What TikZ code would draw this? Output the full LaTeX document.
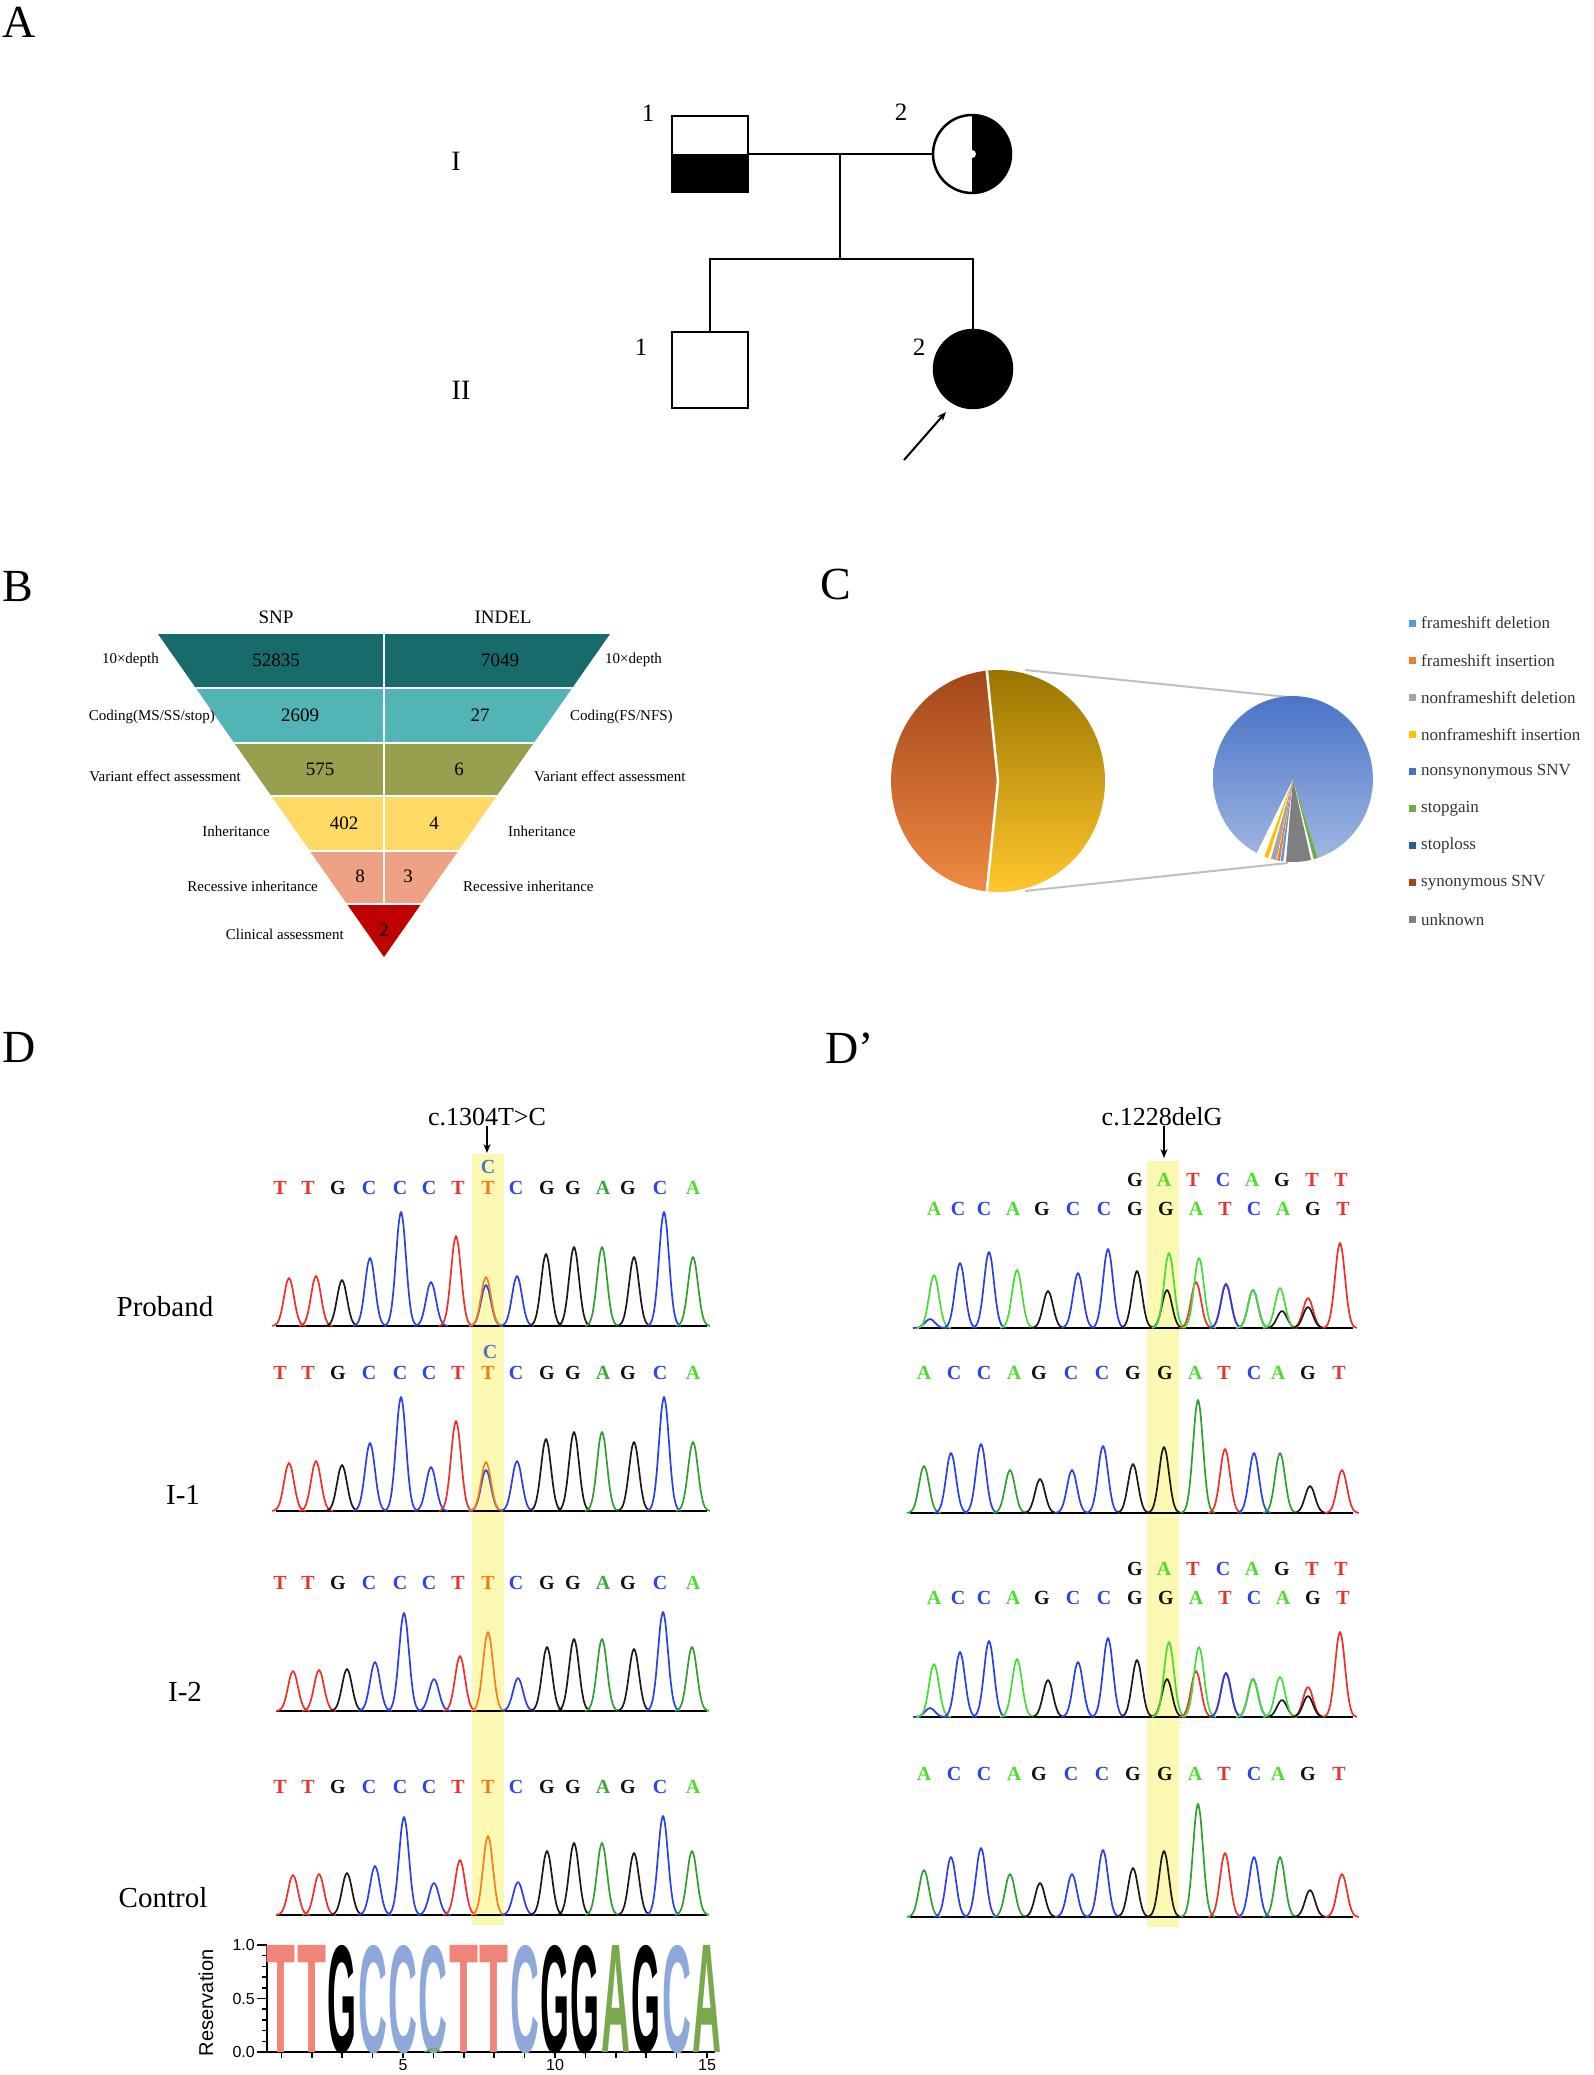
\documentclass[tikz,border=0pt]{standalone}
\usepackage{fontspec}
\usepackage{graphicx}
\setmainfont{Liberation Serif}
\setsansfont{Liberation Sans}
\usetikzlibrary{arrows.meta}
% funnel bands
\definecolor{bandone}{HTML}{176B6B}
\definecolor{bandtwo}{HTML}{52B4B4}
\definecolor{bandthree}{HTML}{989F4F}
\definecolor{bandfour}{HTML}{FFD966}
\definecolor{bandfive}{HTML}{EEA283}
\definecolor{bandsix}{HTML}{C00000}
% pie chart
\definecolor{fdel}{HTML}{5B9BD5}
\definecolor{fins}{HTML}{ED7D31}
\definecolor{nfdel}{HTML}{A5A5A5}
\definecolor{nfins}{HTML}{FFC000}
\definecolor{nsyn}{HTML}{4472C4}
\definecolor{sgain}{HTML}{70AD47}
\definecolor{sloss}{HTML}{255E91}
\definecolor{syn}{HTML}{9E480E}
\definecolor{unk}{HTML}{7F7F7F}
\definecolor{synT}{HTML}{A3461A}
\definecolor{synB}{HTML}{F08A42}
\definecolor{othT}{HTML}{9A7500}
\definecolor{othB}{HTML}{FFC72C}
\definecolor{nsynT}{HTML}{4A74C6}
\definecolor{nsynB}{HTML}{9FB6E2}
\definecolor{zoomgray}{HTML}{BFBFBF}
\definecolor{legtxt}{HTML}{333333}
% sequencing
\definecolor{hl}{HTML}{FBF8B4}
\definecolor{tR}{HTML}{E8322B}
\definecolor{tB}{HTML}{2F44E6}
\definecolor{tK}{HTML}{111111}
\definecolor{tG}{HTML}{3BA83B}
\definecolor{tL}{HTML}{4EDD2C}
\definecolor{tO}{HTML}{F07A1A}
\definecolor{tC}{HTML}{5575C2}
\definecolor{cT}{HTML}{EE3028}
\definecolor{cC}{HTML}{2B3FE8}
\definecolor{cG}{HTML}{1A1A1A}
\definecolor{cA}{HTML}{2F9F2F}
\definecolor{cAb}{HTML}{44DD33}
\definecolor{cO}{HTML}{F08020}
% logo
\definecolor{lgT}{HTML}{EF8479}
\definecolor{lgC}{HTML}{8EA8DA}
\definecolor{lgA}{HTML}{79A94C}

\tikzset{
  lab/.style={inner sep=0pt},
  panel/.style={lab, anchor=west, font=\fontsize{46}{46}\selectfont},
  gen/.style={lab, font=\fontsize{28}{28}\selectfont},
  idno/.style={lab, font=\fontsize{25}{25}\selectfont},
  male/.style={draw, line width=2.5pt, minimum size=76pt, inner sep=0pt},
  female/.style={draw, circle, line width=2.5pt, minimum size=78pt, inner sep=0pt},
  link/.style={line width=2.5pt},
  funhead/.style={lab, font=\fontsize{19}{19}\selectfont},
  funtext/.style={lab, font=\fontsize{15}{15}\selectfont},
  funnum/.style={lab, font=\fontsize{19}{19}\selectfont},
  legtext/.style={lab, anchor=west, text=legtxt, font=\fontsize{17}{17}\selectfont},
  zoomline/.style={zoomgray, line width=2pt},
  basecall/.style={lab, font=\bfseries\fontsize{20}{20}\selectfont},
  who/.style={lab, font=\fontsize{29}{29}\selectfont},
  mut/.style={lab, font=\fontsize{26}{26}\selectfont},
  mutarrow/.style={line width=1.8pt, -{Stealth[length=9pt, width=7pt]}},
  trace/.style={line width=1.7pt, line join=round},
  baseline/.style={line width=1.8pt},
  logoaxis/.style={line width=1.5pt},
  ticklab/.style={lab, font=\sffamily\fontsize{16}{16}\selectfont},
}

% one chromatogram: baseline, list of x/height/colour
\newcommand{\drawtrace}[2]{%
  \foreach \px/\ph/\pc in #2
    \draw[trace, \pc] plot[smooth, domain=\px-17:\px+17, samples=15]
      (\x, {#1-\ph*exp(-((\x-\px)/7)^2)});}

% peaks
\def\hetD{289/48/cT, 316/50/cT, 342/46/cG, 370/68/cC, 401/114/cC, 431/44/cC, 456/90/cT, 486/41/cC, 486/49/cO, 517/50/cC, 546/72/cG, 574/79/cG, 602/79/cA, 634/69/cG, 664/114/cC, 693/69/cA}
\def\wildD{293/40/cT, 319/41/cT, 347/42/cG, 375/49/cC, 404/98/cC, 434/32/cC, 460/55/cT, 488/79/cO, 518/33/cC, 547/64/cG, 574/72/cG, 602/72/cA, 634/62/cG, 663/99/cC, 692/64/cA}
\def\hetDp{930/9/cC, 934/53/cAb, 960/65/cC, 989/76/cC, 1017/58/cAb, 1048/37/cG, 1078/55/cC, 1108/79/cC, 1137/57/cG, 1167/38/cG, 1169/75/cAb, 1196/46/cT, 1199/70/cAb, 1226/44/cT, 1226/44/cC, 1253/38/cC, 1253/38/cAb, 1282/17/cG, 1280/40/cAb, 1308/30/cT, 1308/21/cG, 1340/85/cT}
\def\wildDp{924/47/cA, 951/60/cC, 981/69/cC, 1010/43/cA, 1040/34/cG, 1072/43/cC, 1103/67/cC, 1133/49/cG, 1164/66/cG, 1198/113/cA, 1225/64/cT, 1254/60/cC, 1280/60/cA, 1310/27/cG, 1342/43/cT}
% base calls
\def\seqD{280/T/tR, 308/T/tR, 338/G/tK, 369/C/tB, 400/C/tB, 429/C/tB, 458/T/tR, 488/T/tO, 516/C/tB, 547/G/tK, 573/G/tK, 603/A/tG, 628/G/tK, 660/C/tB, 693/A/tL}
\def\topDp{1135/G/tK, 1164/A/tL, 1193/T/tR, 1223/C/tB, 1252/A/tL, 1282/G/tK, 1312/T/tR, 1341/T/tR}
\def\botDp{934/A/tL, 958/C/tB, 984/C/tB, 1013/A/tL, 1042/G/tK, 1073/C/tB, 1104/C/tB, 1135/G/tK, 1166/G/tK, 1196/A/tL, 1225/T/tR, 1254/C/tB, 1283/A/tL, 1313/G/tK, 1343/T/tR}
\def\seqDp{924/A/tL, 954/C/tB, 984/C/tB, 1014/A/tL, 1039/G/tK, 1071/C/tB, 1102/C/tB, 1133/G/tK, 1165/G/tK, 1195/A/tL, 1224/T/tR, 1254/C/tB, 1278/A/tL, 1308/G/tK, 1339/T/tR}

\begin{document}
\begin{tikzpicture}[x=1pt, y=-1pt]
  \useasboundingbox (0,0) rectangle (1594,2075);
  \fill[white] (0,0) rectangle (1594,2075);

  % Panel letters
  \node[panel] (pA) at (2,22) {A};
  \node[panel] (pB) at (2,586) {B};
  \node[panel] (pC) at (820,584) {C};
  \node[panel] (pD) at (2,1047) {D};
  \node[panel] (pDp) at (825,1048) {D'};

  % Pedigree
  \node[male] (I1) at (710,154) {};
  \fill (I1.west) rectangle (I1.south east);
  \node[female] (I2) at (972,154) {};
  \begin{scope}
    \clip (972,100) rectangle (1030,210);
    \fill (I2.center) circle (39);
  \end{scope}
  \fill[white] (I2.center) circle (4);
  \node[male] (II1) at (710,370) {};
  \node[female, fill=black] (II2) at (973,369) {};
  \coordinate (mid) at (840,154);
  \coordinate (sib) at (840,259);
  \draw[link] (I1.east) -- (I2.west);
  \draw[link] (mid) -- (sib);
  \draw[link] (II1.north) |- (sib) -| (II2.north);
  \node[idno] (n11) at (648,113) {1};
  \node[idno] (n12) at (901,112) {2};
  \node[idno] (n21) at (641,347) {1};
  \node[idno] (n22) at (919,347) {2};
  \node[gen] (g1) at (456,161) {I};
  \node[gen] (g2) at (461,390) {II};
  \coordinate (arrtail) at (904,460);
  \coordinate (arrhead) at (946,412);
  \draw[line width=2pt, -{Stealth[length=9pt, width=7pt]}] (arrtail) -- (arrhead);

  % Funnel
  \def\fx{384}
  \begin{scope}
    \clip (\fx-226,634) -- (\fx+226,634) -- (\fx,957) -- cycle;
    \foreach \ya/\yb/\col in {634/688/bandone, 688/743/bandtwo, 743/796/bandthree, 796/851/bandfour, 851/904/bandfive, 904/960/bandsix}
      \fill[\col] (150,\ya) rectangle (620,\yb);
    \foreach \y in {688,743,796,851,904}
      \draw[white, line width=2.5pt] (150,\y) -- (620,\y);
    \draw[white, line width=2.5pt] (\fx,630) -- (\fx,904);
  \end{scope}
  \node[funhead] (snp) at (276,617) {SNP};
  \node[funhead] (indel) at (503,617) {INDEL};
  \foreach \nx/\ny/\t in {276/660/52835, 500/660/7049, 300/715/2609, 480/715/27, 320/769/575, 459/769/6, 344/823/402, 434/823/4, 360/876/8, 408/876/3, 384/930/2}
    \node[funnum] at (\nx,\ny) {\t};
  \foreach \nx/\ny/\t in {159/660/10×depth, 215/717/{Coding(MS/SS/stop)}, 241/776/Variant effect assessment, 270/831/Inheritance, 318/886/Recessive inheritance, 344/934/Clinical assessment}
    \node[funtext, anchor=east] at (\nx,\ny) {\t};
  \foreach \nx/\ny/\t in {605/660/10×depth, 570/717/{Coding(FS/NFS)}, 534/776/Variant effect assessment, 508/831/Inheritance, 463/886/Recessive inheritance}
    \node[funtext, anchor=west] at (\nx,\ny) {\t};

  % Pie of pie
  \draw[zoomline] (1025,670) -- (1288,697);
  \draw[zoomline] (1025,891) -- (1288,863);
  \def\bx{998} \def\by{781} \def\brx{107} \def\bry{111}
  \shade[top color=synT, bottom color=synB] (\bx,\by) -- plot[domain=96:264, samples=50] ({\bx+\brx*cos(\x)}, {\by+\bry*sin(\x)}) -- cycle;
  \shade[top color=othT, bottom color=othB] (\bx,\by) -- plot[domain=-96:96, samples=50] ({\bx+\brx*cos(\x)}, {\by+\bry*sin(\x)}) -- cycle;
  \draw[white, line width=2.5pt] ({\bx+\brx*cos(264)}, {\by+\bry*sin(264)}) -- (\bx,\by) -- ({\bx+\brx*cos(96)}, {\by+\bry*sin(96)});
  \def\sx{1293} \def\sy{779} \def\srx{80} \def\sry{83}
  \shade[top color=nsynT, bottom color=nsynB] (\sx,\sy) -- plot[domain=117:432, samples=60] ({\sx+\srx*cos(\x)}, {\sy+\sry*sin(\x)}) -- cycle;
  \foreach \a/\b/\c in {72/75/sgain, 77/95/unk, 97/99/fdel, 99.5/101.5/fins, 102/106/nfdel, 108/111/nfins}
    \fill[\c] (\sx,\sy) -- plot[domain=\a:\b, samples=6] ({\sx+\srx*cos(\x)}, {\sy+\sry*sin(\x)}) -- cycle;
  \foreach \n/\c/\t in {0/fdel/frameshift deletion, 1/fins/frameshift insertion, 2/nfdel/nonframeshift deletion, 3/nfins/nonframeshift insertion, 4/nsyn/nonsynonymous SNV, 5/sgain/stopgain, 6/sloss/stoploss, 7/syn/synonymous SNV, 8/unk/unknown} {
    \fill[\c] (1409,{619.5+37.1*\n}) rectangle ++(7,7);
    \node[legtext] at (1421,{623+37.1*\n}) {\t};
  }

  % Sequencing D
  \fill[hl] (472,1154) rectangle (504,1925);
  \foreach \b in {1326,1511,1711,1915}
    \draw[baseline] (276,\b) -- (707,\b);
  \drawtrace{1326}{\hetD}
  \drawtrace{1511}{\hetD}
  \drawtrace{1711}{\wildD}
  \drawtrace{1915}{\wildD}
  \foreach \row in {1188,1373,1583,1787}
    \foreach \lx/\l/\c in \seqD
      \node[basecall, text=\c] at (\lx,\row) {\l};
  \node[basecall, text=tC] (cp) at (488,1167) {C};
  \node[basecall, text=tC] (ci) at (490,1352) {C};
  \node[mut] (mutD) at (487,1117) {c.1304T>C};
  \coordinate (tipD) at (487,1153);
  \draw[mutarrow] (mutD.south) -- (tipD);
  \node[who] (sP) at (165,1307) {Proband};
  \node[who] (sI1) at (183,1495) {I-1};
  \node[who] (sI2) at (185,1692) {I-2};
  \node[who] (sC) at (163,1898) {Control};

  % Sequencing D'
  \fill[hl] (1147,1161) rectangle (1179,1927);
  \foreach \b/\s in {1328/919,1513/910,1717/919,1917/910}
    \draw[baseline] (\s,\b) -- (1353,\b);
  \drawtrace{1328}{\hetDp}
  \drawtrace{1513}{\wildDp}
  \drawtrace{1717}{\hetDp}
  \drawtrace{1917}{\wildDp}
  \foreach \rt/\rb in {1180/1209, 1569/1598} {
    \foreach \lx/\l/\c in \topDp
      \node[basecall, text=\c] at (\lx,\rt) {\l};
    \foreach \lx/\l/\c in \botDp
      \node[basecall, text=\c] at (\lx,\rb) {\l};
  }
  \foreach \row in {1373,1774}
    \foreach \lx/\l/\c in \seqDp
      \node[basecall, text=\c] at (\lx,\row) {\l};
  \node[mut] (mutDp) at (1162,1117) {c.1228delG};
  \coordinate (tipDp) at (1164,1158);
  \draw[mutarrow] (mutDp.south -| tipDp) -- (tipDp);

  % Sequence logo
  \draw[logoaxis] (267,1945) -- (267,2052) -- (715,2052);
  \foreach \v in {0,...,10}
    \draw[logoaxis] (267,{2052-10.7*\v}) -- (262,{2052-10.7*\v});
  \foreach \v/\t in {0/0.0, 5/0.5, 10/1.0} {
    \draw[logoaxis] (267,{2052-10.7*\v}) -- (257,{2052-10.7*\v});
    \node[ticklab, anchor=east] at (255,{2052-10.7*\v}) {\t};
  }
  \foreach \i in {1,...,15}
    \draw[logoaxis] ({281.4+(\i-1)*30.4},2052) -- ++(0,6);
  \foreach \i in {5,10,15}
    \node[ticklab, anchor=north] at ({281.4+(\i-1)*30.4},2059) {\i};
  \node[ticklab, rotate=90, font=\sffamily\fontsize{20}{20}\selectfont] (resv) at (206,2003) {Reservation};
  \foreach \i/\l/\c in {1/T/lgT, 2/T/lgT, 3/G/black, 4/C/lgC, 5/C/lgC, 6/C/lgC, 7/T/lgT, 8/T/lgT, 9/C/lgC, 10/G/black, 11/G/black, 12/A/lgA, 13/G/black, 14/C/lgC, 15/A/lgA}
    \node[lab, anchor=base, text=\c] at ({281.4+(\i-1)*30.4},2052) {\resizebox{29pt}{107pt}{\sffamily\bfseries\l}};
  \node[lab, anchor=base, text=lgA] at (433.4,2052) {\resizebox{22pt}{4pt}{\sffamily\bfseries A}};
\end{tikzpicture}
\end{document}
